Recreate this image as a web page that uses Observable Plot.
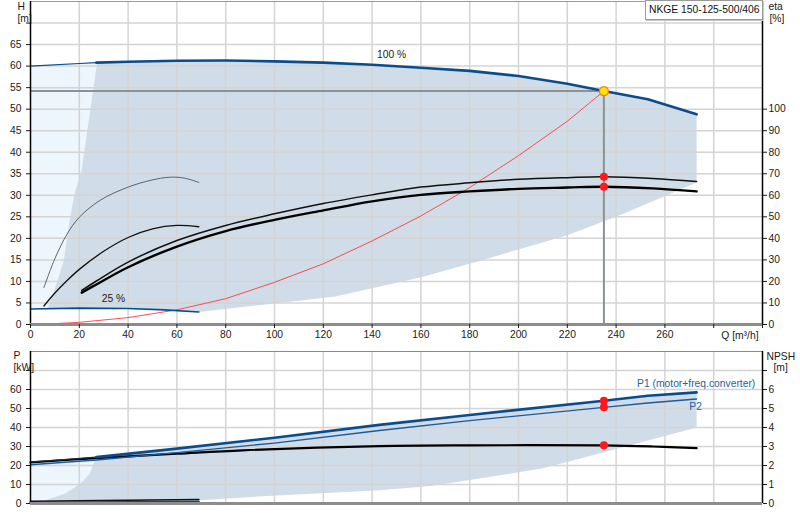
<!DOCTYPE html>
<html><head><meta charset="utf-8">
<script src="https://cdn.jsdelivr.net/npm/d3@7"></script>
<script src="https://cdn.jsdelivr.net/npm/@observablehq/plot@0.6"></script>
<style>
body{margin:0;background:#fff;font-family:"Liberation Sans",Arial,sans-serif;}
#wrap{position:relative;width:800px;height:520px;}
#legend{position:absolute;left:645px;top:0;width:113px;height:18px;border:1px solid #9a9a9a;box-shadow:1px 1px 0 #c8c8c8;background:#fff;font-size:10.3px;line-height:17px;padding-left:3px;color:#111;z-index:5;white-space:nowrap;overflow:hidden;}
svg{display:block;overflow:visible}
</style></head><body>
<div id="wrap"><div id="chart"></div><div id="legend">NKGE 150-125-500/406</div></div>
<script>
// ---------- data ----------
const qTicks = [0,20,40,60,80,100,120,140,160,180,200,220,240,260,280,300];
const qGrid = [20,40,60,80,100,120,140,160,180,200,220,240,260,280];
const hTicks = [0,5,10,15,20,25,30,35,40,45,50,55,60,65,70];
const hGrid = [5,10,15,20,25,30,35,40,45,50,55,60,65,70];
const etaTicks = [0,10,20,30,40,50,60,70,80,90,100];
const pTicks = [0,10,20,30,40,50,60,70];
const pGrid = [10,20,30,40,50,60,70];
const npshTicks = [0,1,2,3,4,5,6,7];

// 100 % head curve
const qH100 = [0,20,27,40,60,80,100,120,140,160,180,200,220,235,253,273];
const h100  = [60.0,60.6,60.8,61.0,61.25,61.3,61.1,60.8,60.3,59.6,58.9,57.7,55.9,54.2,52.3,48.8];
// 25 % head curve
const qH25 = [0,20,40,55,69];
const h25  = [3.6,3.8,3.7,3.4,2.9];
// light region (left, outside)
const lightQ = [0,20,27.3];
const lightBottom = [3.6,3.8,3.8];
const lightTop = [60.0,60.6,60.8];
// operating area polygon (top)
const opQ = [27.3,21,18,15.6,13.7,10.7,8.5,7,20,40,55,69,100,125,160,180,220,242,273,273,253,235,220,200,180,160,140,120,100,80,60,40,27.3];
const opH = [60.8,36,30.3,22.6,15,9.5,6,3.8,3.8,3.7,3.4,2.9,4.9,6.5,11,14.1,20.7,25.5,33,48.8,52.3,54.2,55.9,57.7,58.9,59.6,60.3,60.8,61.1,61.3,61.25,61.0,60.8];
// efficiency curves (%)
const qEta = [21,27,40,60,80,100,120,140,160,180,200,220,235,255,273];
const etaUpper = [15.8,20.2,29.0,39.0,46.0,51.4,56.2,60.2,63.8,65.8,67.4,68.2,68.6,67.8,66.4];
const etaLower = [14.8,18.6,26.6,36.2,43.4,48.6,53.0,57.2,60.2,61.8,63.0,63.6,64.0,63.2,61.8];
const qEtaA = [5.5,10,15,20,28.7,40,49.4,57,63,69];
const etaA = [17.2,30.6,42.0,49.8,57.8,63.8,67.0,68.4,68.0,66.0];
const qEtaB = [5.5,10,15,20,30,40,50,60,69];
const etaB = [8.6,14.6,20.4,25.6,34.0,40.4,44.4,46.0,45.4];
// system curve (m)
const qSys = [2.5,20,40,60,80,100,120,140,160,180,200,220,235];
const hSys = [0,0.5,1.6,3.4,6.0,9.8,14.1,19.4,25.2,31.8,39.2,47.2,54.2];
// duty point
const dutyQ = 235, dutyH = 54.2, dutyEta = [68.6,64.0];

// power panel
const qP1 = [27,60,100,143,180,235,253,273];
const p1  = [24.4,28.9,34.6,41.4,46.6,54.1,56.7,58.5];
const qP1thin = [0,27];
const p1thin = [21.8,24.4];
const qP2 = [0,27,60,100,143,180,235,253,273];
const p2  = [20.4,22.9,26.8,31.8,38.4,43.6,50.6,52.9,55.0];
const qNpsh = [0,27,60,87,143,180,235,255,273];
const npsh  = [2.16,2.39,2.62,2.80,3.02,3.06,3.06,3.00,2.91];
const qP25 = [0,69];
const p1_25 = [1.2,2.1];
const p2_25 = [0.35,1.05];
const lightPQ = [0,27];
const lightPBottom = [1.2,1.6];
const lightPTop = [21.8,24.4];
const opPQ = [27,25.9,24.3,20.5,14.3,6.1,40,69,95,143,164,184,209,220,273,273,253,235,180,143,100,60,27];
const opP  = [24.4,21.0,15.7,10.5,5.2,1.7,1.6,1.7,3.8,7.0,9.2,13.1,18.3,21.8,40.0,58.5,56.7,54.1,46.6,41.4,34.6,28.9,24.4];
const dutyP = [54.1,50.6];
const dutyNpsh = 3.06;

// ---------- helpers ----------
const pts = (xs, ys) => xs.map((x,i) => ({x, y: ys[i]}));
const DARK = "#d0dce7", LIGHT = "#edf5fd", BLUE = "#0b4c8c", GRID = "#d4d4d4", DUTY = "#8b9297";
const FS = 10.3;
const font = {fontFamily: '"Liberation Sans", Arial, sans-serif', fontSize: FS + "px", color: "#1a1a1a", background: "#fff"};
const lbl = (s, o) => Plot.text([s], {text: d => d, fontSize: FS, lineAnchor: "middle", ...o});

const headChart = Plot.plot({
  width: 800, height: 340,
  marginLeft: 30, marginRight: 38, marginTop: 1, marginBottom: 16,
  x: {domain: [0,300]}, y: {domain: [0,75]},
  style: font,
  marks: [
    Plot.areaY(lightQ.map((q,i)=>({x:q, y1: lightBottom[i], y2: lightTop[i]})), {x:"x", y1:"y1", y2:"y2", fill: LIGHT}),
    Plot.line(pts(opQ, opH), {x:"x", y:"y", fill: DARK, stroke: "none"}),
    Plot.gridX(qGrid, {stroke: GRID, strokeOpacity: 1, strokeWidth: 1.5}),
    Plot.gridY(hGrid, {stroke: GRID, strokeOpacity: 1, strokeWidth: 1.5}),
    Plot.ruleY([75], {stroke: "#9a9a9a", strokeWidth: 1}),
    Plot.ruleY([dutyH], {x1: 0, x2: dutyQ, stroke: DUTY, strokeWidth: 2}),
    Plot.ruleX([dutyQ], {y1: 0, y2: dutyH, stroke: DUTY, strokeWidth: 2}),
    Plot.line(pts(qSys, hSys), {x:"x", y:"y", stroke: "#ff3b3b", strokeWidth: 0.9}),
    Plot.line(pts(qEtaA, etaA), {x:"x", y: d => d.y/2, stroke: "#555", strokeWidth: 0.9, curve: "catmull-rom"}),
    Plot.line(pts(qEtaB, etaB), {x:"x", y: d => d.y/2, stroke: "#111", strokeWidth: 1.3, curve: "catmull-rom"}),
    Plot.line(pts(qEta, etaUpper), {x:"x", y: d => d.y/2, stroke: "#111", strokeWidth: 1.5, curve: "catmull-rom"}),
    Plot.line(pts(qEta, etaLower), {x:"x", y: d => d.y/2, stroke: "#000", strokeWidth: 2.4, curve: "catmull-rom"}),
    Plot.line(pts(qH25, h25), {x:"x", y:"y", stroke: BLUE, strokeWidth: 1.6}),
    Plot.line(pts(qH100.slice(0,3), h100.slice(0,3)), {x:"x", y:"y", stroke: BLUE, strokeWidth: 1.2}),
    Plot.line(pts(qH100.slice(2), h100.slice(2)), {x:"x", y:"y", stroke: BLUE, strokeWidth: 2.6}),
    Plot.ruleX([0], {stroke: "#000", strokeWidth: 1.5}),
    Plot.ruleX([300], {stroke: "#000", strokeWidth: 1.5}),
    Plot.ruleY([0], {stroke: "#8c8c8c", strokeWidth: 3}),
    Plot.dot(dutyEta, {x: () => dutyQ, y: d => d/2, r: 4, fill: "#ff1a1a", stroke: "none"}),
    Plot.dot([dutyH], {x: () => dutyQ, y: d => d, r: 4.5, fill: "#ffe600", stroke: "#ff7a00", strokeWidth: 1.3}),
    Plot.axisY(hTicks, {anchor: "left", tickSize: 4, tickPadding: 5, label: null, fontSize: FS, tickFormat: d => d > 65 ? "" : String(d)}),
    Plot.axisY(etaTicks.map(e => e/2), {anchor: "right", tickSize: 4, tickPadding: 2, label: null, fontSize: FS, tickFormat: d => String(d*2)}),
    Plot.axisX(qTicks, {anchor: "bottom", tickSize: 4, tickPadding: 2, label: null, fontSize: FS, tickFormat: d => d > 260 ? "" : String(d)}),
    lbl("100 %", {x: 142, y: 62.7, textAnchor: "start"}),
    lbl("25 %", {x: 34, y: 5.9}),
    lbl("H", {frameAnchor: "top-left", dx: -13, dy: 5}),
    lbl("[m]", {frameAnchor: "top-left", dx: -13, dy: 17}),
    lbl("eta", {frameAnchor: "top-right", dx: 6, dy: 5, textAnchor: "start"}),
    lbl("[%]", {frameAnchor: "top-right", dx: 7, dy: 17, textAnchor: "start"}),
    lbl("Q [m³/h]", {frameAnchor: "bottom-right", dx: -4, dy: 11, textAnchor: "end"})
  ]
});

const powerChart = Plot.plot({
  width: 800, height: 180,
  marginLeft: 30, marginRight: 38, marginTop: 11, marginBottom: 17,
  x: {domain: [0,300]}, y: {domain: [0,80]},
  style: font,
  marks: [
    Plot.areaY(lightPQ.map((q,i)=>({x:q, y1: lightPBottom[i], y2: lightPTop[i]})), {x:"x", y1:"y1", y2:"y2", fill: LIGHT}),
    Plot.line(pts(opPQ, opP), {x:"x", y:"y", fill: DARK, stroke: "none", curve: "linear"}),
    Plot.gridX(qGrid, {stroke: GRID, strokeOpacity: 1, strokeWidth: 1.5}),
    Plot.gridY(pGrid, {stroke: GRID, strokeOpacity: 1, strokeWidth: 1.5}),
    Plot.ruleY([80], {stroke: "#8a8a8a", strokeWidth: 1.2}),
    Plot.line(pts(qNpsh, npsh), {x:"x", y: d => d.y*10, stroke: "#000", strokeWidth: 2.2, curve: "catmull-rom"}),
    Plot.line(pts(qP2, p2), {x:"x", y:"y", stroke: "#1a5c9c", strokeWidth: 1.4}),
    Plot.line(pts(qP1thin, p1thin), {x:"x", y:"y", stroke: "#1d2c45", strokeWidth: 1.3}),
    Plot.line(pts(qP1, p1), {x:"x", y:"y", stroke: BLUE, strokeWidth: 2.6}),
    Plot.line(pts(qP25, p2_25), {x:"x", y:"y", stroke: BLUE, strokeWidth: 2}),
    Plot.line(pts(qP25, p1_25), {x:"x", y:"y", stroke: "#111", strokeWidth: 1.6}),
    Plot.ruleX([0], {stroke: "#000", strokeWidth: 1.5}),
    Plot.ruleX([300], {stroke: "#000", strokeWidth: 1.5}),
    Plot.ruleY([0], {stroke: "#8c8c8c", strokeWidth: 3}),
    Plot.dot(dutyP, {x: () => dutyQ, y: d => d, r: 4, fill: "#ff1a1a", stroke: "none"}),
    Plot.dot([dutyNpsh], {x: () => dutyQ, y: d => d*10, r: 4, fill: "#ff1a1a", stroke: "none"}),
    Plot.axisY(pTicks, {anchor: "left", tickSize: 4, tickPadding: 5, label: null, fontSize: FS, tickFormat: d => d > 60 ? "" : String(d)}),
    Plot.axisY(npshTicks.map(n => n*10), {anchor: "right", tickSize: 4, tickPadding: 2, label: null, fontSize: FS, tickFormat: d => d > 60 ? "" : String(d/10)}),
    Plot.axisX(qTicks, {anchor: "bottom", tickSize: 0, label: null, tickFormat: () => ""}),
    lbl("P1 (motor+freq.converter)", {x: 248.6, y: 62.9, textAnchor: "start", fill: "#1f5f9f"}),
    lbl("P2", {x: 270, y: 51.2, textAnchor: "start", fill: "#1f5f9f"}),
    lbl("P", {frameAnchor: "top-left", dx: -17, dy: 4}),
    lbl("[kW]", {frameAnchor: "top-left", dx: -17, dy: 16}),
    lbl("NPSH", {frameAnchor: "top-right", dx: 4, dy: 5, textAnchor: "start"}),
    lbl("[m]", {frameAnchor: "top-right", dx: 11, dy: 16, textAnchor: "start"})
  ]
});

const chart = document.getElementById("chart");
chart.appendChild(headChart);
chart.appendChild(powerChart);
</script></body></html>
